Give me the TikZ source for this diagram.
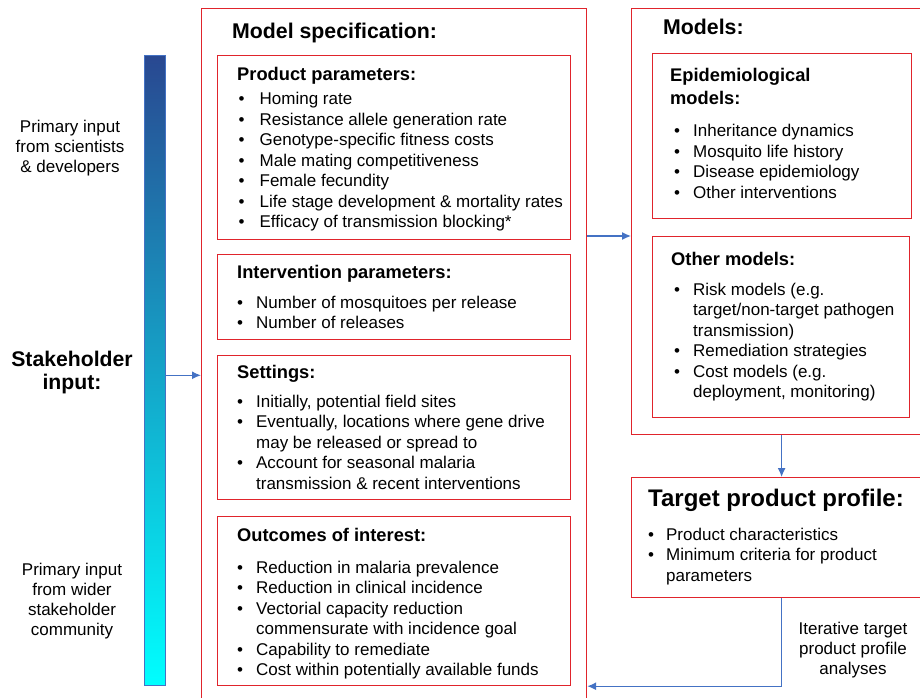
\documentclass[tikz,border=0pt]{standalone}
\usepackage{fontspec}
\setmainfont{Liberation Sans}
\usetikzlibrary{arrows.meta}

\definecolor{boxred}{RGB}{224,36,44}
\definecolor{flowblue}{RGB}{68,114,196}
\definecolor{bartop}{RGB}{41,72,145}
\definecolor{barbottom}{RGB}{0,255,255}

% bold heading inside a box
\newcommand{\boxhead}[1]{\multicolumn{2}{@{}l}{\fontsize{18.3}{20.5}\selectfont\bfseries #1}}

\begin{document}
\begin{tikzpicture}[x=1pt,y=-1pt]
	\tikzstyle{redbox} = [draw=boxred,line width=1.2pt,anchor=north west,inner sep=0pt]
	\tikzstyle{boxtext} = [anchor=base west,inner sep=0pt,font=\fontsize{17}{20.5}\selectfont]
	\tikzstyle{boxtitle} = [anchor=base west,inner sep=0pt,font=\fontsize{21.3}{24}\selectfont\bfseries]
	\tikzstyle{sidetext} = [align=center,inner sep=0pt,font=\fontsize{17}{20}\selectfont]
	\tikzstyle{flowedge} = [-{Latex[length=9pt,width=8pt]},draw=flowblue,line width=1.3pt]

	\clip (0,0) rectangle (920,698);

	% LEFT SIDE %
	\node[draw=flowblue,line width=0.6pt,top color=bartop,bottom color=barbottom,
		anchor=north west,minimum width=21pt,minimum height=630pt] (bar) at (144,55) {};
	\node[sidetext] (sci) at (70,148) {Primary input\\from scientists\\\& developers};
	\node[sidetext,font=\fontsize{21.2}{23}\selectfont\bfseries] (stake) at (72,373) {Stakeholder\\input:};
	\node[sidetext] (wider) at (72,601) {Primary input\\from wider\\stakeholder\\community};

	% MODEL SPECIFICATION %
	\node[redbox,minimum width=385pt,minimum height=702pt] (specbox) at (201,8) {};
	\node[boxtitle] (spectitle) at (232,39) {Model specification:};

	\node[redbox,minimum width=353pt,minimum height=184pt] (prodbox) at (217,55) {};
	\node[boxtext] (prodtxt) at (237,81) {\begin{tabular}[t]{@{\hspace{1.5pt}}l@{\hspace{15pt}}l}
		\boxhead{Product parameters:}\\[3.5pt]
		\textbullet & Homing rate\\
		\textbullet & Resistance allele generation rate\\
		\textbullet & Genotype-specific fitness costs\\
		\textbullet & Male mating competitiveness\\
		\textbullet & Female fecundity\\
		\textbullet & Life stage development \& mortality rates\\
		\textbullet & Efficacy of transmission blocking*
	\end{tabular}};

	\node[redbox,minimum width=353pt,minimum height=85pt] (intvbox) at (217,254) {};
	\node[boxtext] (intvtxt) at (237,278) {\begin{tabular}[t]{@{\hspace{0pt}}l@{\hspace{13pt}}l}
		\boxhead{Intervention parameters:}\\[9.5pt]
		\textbullet & Number of mosquitoes per release\\
		\textbullet & Number of releases
	\end{tabular}};

	\node[redbox,minimum width=353pt,minimum height=144pt] (setbox) at (217,355) {};
	\node[boxtext] (settxt) at (237,378) {\begin{tabular}[t]{@{\hspace{0pt}}l@{\hspace{13pt}}l}
		\boxhead{Settings:}\\[8.5pt]
		\textbullet & Initially, potential field sites\\
		\textbullet & Eventually, locations where gene drive\\
		& may be released or spread to\\
		\textbullet & Account for seasonal malaria\\
		& transmission \& recent interventions
	\end{tabular}};

	\node[redbox,minimum width=353pt,minimum height=169pt] (outbox) at (217,516) {};
	\node[boxtext] (outtxt) at (237,541) {\begin{tabular}[t]{@{\hspace{0pt}}l@{\hspace{13pt}}l}
		\boxhead{Outcomes of interest:}\\[11.5pt]
		\textbullet & Reduction in malaria prevalence\\
		\textbullet & Reduction in clinical incidence\\
		\textbullet & Vectorial capacity reduction\\
		& commensurate with incidence goal\\
		\textbullet & Capability to remediate\\
		\textbullet & Cost within potentially available funds
	\end{tabular}};

	% MODELS %
	\node[redbox,minimum width=300pt,minimum height=426pt] (modbox) at (631,8) {};
	\node[boxtitle] (modtitle) at (663,35) {Models:};

	\node[redbox,minimum width=259pt,minimum height=165pt] (epibox) at (652,53) {};
	\node[boxtext] (epitxt) at (670,82) {\begin{tabular}[t]{@{\hspace{4pt}}l@{\hspace{13pt}}l}
		\boxhead{Epidemiological}\\[2.5pt]
		\boxhead{models:}\\[11.5pt]
		\textbullet & Inheritance dynamics\\
		\textbullet & Mosquito life history\\
		\textbullet & Disease epidemiology\\
		\textbullet & Other interventions
	\end{tabular}};

	\node[redbox,minimum width=257pt,minimum height=181pt] (othbox) at (652,236) {};
	\node[boxtext] (othtxt) at (671,265) {\begin{tabular}[t]{@{\hspace{3pt}}l@{\hspace{13pt}}l}
		\boxhead{Other models:}\\[9.5pt]
		\textbullet & Risk models (e.g.\\
		& target/non-target pathogen\\
		& transmission)\\
		\textbullet & Remediation strategies\\
		\textbullet & Cost models (e.g.\\
		& deployment, monitoring)
	\end{tabular}};

	% TARGET PRODUCT PROFILE %
	\node[redbox,minimum width=300pt,minimum height=120pt] (tppbox) at (631,477) {};
	\node[boxtext] (tpptxt) at (648,506) {\begin{tabular}[t]{@{\hspace{0pt}}l@{\hspace{12pt}}l}
		\multicolumn{2}{@{}l}{\fontsize{24}{24}\selectfont\bfseries Target product profile:}\\[13.5pt]
		\textbullet & Product characteristics\\
		\textbullet & Minimum criteria for product\\
		& parameters
	\end{tabular}};
	\node[sidetext] (iter) at (853,650) {Iterative target\\product profile\\analyses};

	% EDGES %
	\coordinate (barout) at ([yshift=-5pt]bar.east);
	\draw[flowedge] (barout) -- (barout -| specbox.west);
	\draw[flowedge] (specbox.east |- othbox.north) -- (modbox.west |- othbox.north);
	\draw[flowedge] (modbox.south) -- (tppbox.north);
	\draw[flowedge] (tppbox.south) |- (specbox.east |- outbox.south);
\end{tikzpicture}
\end{document}
